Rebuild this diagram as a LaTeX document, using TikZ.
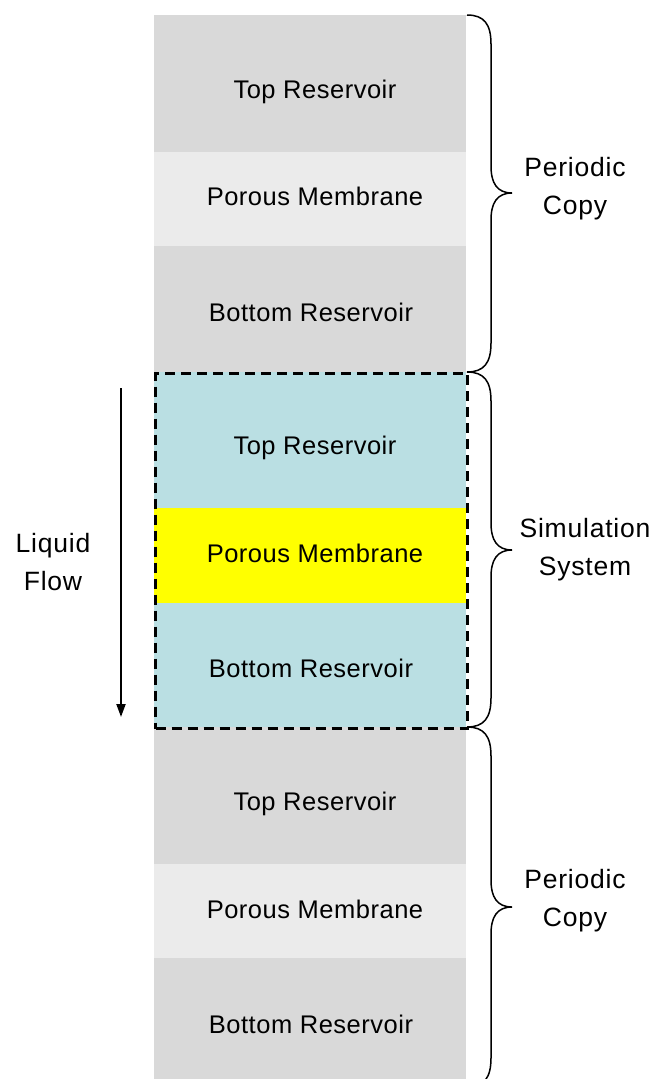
\documentclass[tikz,border=0pt]{standalone}
\usepackage{fontspec}
\setmainfont{Liberation Sans}
\newfontfamily\boxfont{Liberation Sans}[LetterSpace=2]
\newfontfamily\sidefont{Liberation Sans}[LetterSpace=3]
\usetikzlibrary{arrows.meta}
\definecolor{resgray}{HTML}{D9D9D9}
\definecolor{memgray}{HTML}{EBEBEB}
\definecolor{simcyan}{HTML}{BADFE3}
\definecolor{memyellow}{HTML}{FFFF00}
\begin{document}
\begin{tikzpicture}[x=1pt,y=-1pt,
  band/.style={draw=none,inner sep=0pt,minimum width=312pt,anchor=north west},
  boxtext/.style={inner sep=0pt,font=\boxfont\fontsize{25.5}{29}\selectfont},
  sidetext/.style={inner sep=0pt,align=center,font=\sidefont\fontsize{26.5}{38}\selectfont},
  brace/.style={draw=black,line width=1.5pt},
  flow/.style={draw=black,line width=2pt,-{Triangle[length=13pt,width=9pt]}},
  simframe/.style={draw=black,line width=3.4pt,dash pattern=on 10pt off 6pt,inner sep=0pt,
    minimum width=312pt,minimum height=355pt,anchor=north west,fill=none}]
\useasboundingbox (0,0) rectangle (660,1079);
% periodic copy (top)
\node[band,fill=resgray,minimum height=137pt] (t1) at (154,15) {};
\node[band,fill=memgray,minimum height=94pt] (m1) at (154,152) {};
\node[band,fill=resgray,minimum height=126pt] (b1) at (154,246) {};
% simulation system
\node[band,fill=simcyan,minimum height=136pt] (t2) at (154,372) {};
\node[band,fill=memyellow,minimum height=95pt] (m2) at (154,508) {};
\node[band,fill=simcyan,minimum height=124pt] (b2) at (154,603) {};
% periodic copy (bottom)
\node[band,fill=resgray,minimum height=137pt] (t3) at (154,727) {};
\node[band,fill=memgray,minimum height=94pt] (m3) at (154,864) {};
\node[band,fill=resgray,minimum height=125pt] (b3) at (154,958) {};
\node[simframe] (sim) at (154,372) {};
% labels
\node[boxtext] (lt1) at (315,92) {Top Reservoir};
\node[boxtext] (lm1) at (315,196) {Porous Membrane};
\node[boxtext] (lb1) at (311,312) {Bottom Reservoir};
\node[boxtext] (lt2) at (315,448) {Top Reservoir};
\node[boxtext] (lm2) at (315,553) {Porous Membrane};
\node[boxtext] (lb2) at (311,668) {Bottom Reservoir};
\node[boxtext] (lt3) at (315,804) {Top Reservoir};
\node[boxtext] (lm3) at (315,909) {Porous Membrane};
\node[boxtext] (lb3) at (311,1024) {Bottom Reservoir};
% braces
\draw[brace] (467,15) .. controls (484,15) and (491,24) .. (491,44) -- (491,166)
  .. controls (491,183) and (497,193) .. (512,193)
  .. controls (497,193) and (491,203) .. (491,220) -- (491,343)
  .. controls (491,363) and (484,372) .. (467,372);
\draw[brace] (467,372) .. controls (484,372) and (491,381) .. (491,401) -- (491,523)
  .. controls (491,540) and (497,550) .. (512,550)
  .. controls (497,550) and (491,560) .. (491,577) -- (491,698)
  .. controls (491,718) and (484,727) .. (467,727);
\draw[brace] (467,727) .. controls (484,727) and (491,736) .. (491,756) -- (491,880)
  .. controls (491,897) and (497,907) .. (512,907)
  .. controls (497,907) and (491,917) .. (491,934) -- (491,1058)
  .. controls (491,1078) and (484,1087) .. (467,1087);
\node[sidetext] (pc1) at (575,189) {Periodic\\Copy};
\node[sidetext] (ss) at (585,550) {Simulation\\System};
\node[sidetext] (pc2) at (575,901) {Periodic\\Copy};
% liquid flow
\node[sidetext] (lf) at (53,562) {Liquid\\Flow};
\coordinate (fs) at (121,388);
\coordinate (fe) at (121,717);
\draw[flow] (fs) -- (fe);
\end{tikzpicture}
\end{document}
